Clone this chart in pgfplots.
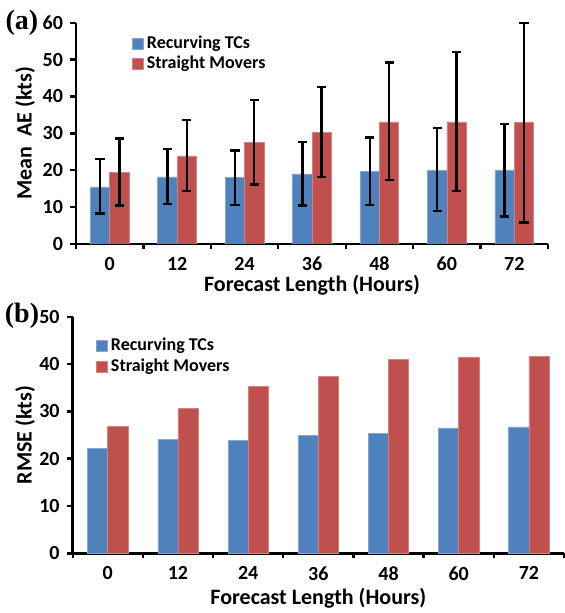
\documentclass[border=0pt]{standalone}
\usepackage{fontspec}
\setmainfont{Carlito}
\newfontfamily\serifbf{Liberation Serif}
\usepackage{pgfplots}
\pgfplotsset{compat=1.18}

\definecolor{tcblue}{RGB}{79,129,189}
\definecolor{smred}{RGB}{192,80,77}

\pgfplotsset{
  tcpanel/.style={
    scale only axis,
    ybar=0pt, bar width=0.287,
    xmin=-0.5, xmax=6.5, ymin=0,
    xtick={0,...,6}, xticklabels={0,12,24,36,48,60,72},
    minor xtick={-0.5,0.5,...,6.5},
    major x tick style={draw=none},
    tick align=outside,
    major tick length=3pt, minor tick length=2.5pt,
    every tick/.style={black, line width=1.2pt},
    axis x line*=bottom, axis y line*=left,
    axis line style={-, black, line width=1.3pt},
    tick label style={font=\bfseries\fontsize{10}{12}\selectfont},
    yticklabel style={/pgf/number format/assume math mode=true},
    label style={font=\bfseries\fontsize{11}{13}\selectfont},
    xlabel={Forecast Length (Hours)},
    legend style={draw=none, fill=none, anchor=north west,
      font=\bfseries\fontsize{9}{11}\selectfont, cells={anchor=west},
      inner sep=0pt, row sep=0pt,
      nodes={text height=6.8pt, text depth=2.2pt, inner ysep=0.5pt, inner xsep=1.5pt}},
    legend image code/.code={\fill[##1] (0pt,-2.7pt) rectangle (5.6pt,2.7pt);},
  },
  tcbar/.style={fill=#1, draw=#1!70!white, line width=0.3pt},
  ebars/.style={error bars/.cd, y dir=both, y explicit,
    error bar style={black, line width=1.2pt},
    error mark options={black, rotate=90, mark size=2.3pt, line width=1.2pt}},
}

\begin{document}
\begin{tikzpicture}
\path[use as bounding box] (0,0) rectangle (282pt,306.5pt);

% (a) mean absolute error
\begin{axis}[tcpanel, at={(38pt,184.5pt)}, anchor=south west,
  width=236pt, height=110.65pt,
  ymax=60, ytick={0,10,...,60},
  ylabel={Mean\ \ AE (kts)},
  xlabel style={at={(axis description cs:0.5,-0.185)}, anchor=center},
  ylabel style={at={(axis description cs:-0.108,0.5)}, anchor=center},
  legend style={at={(0.118,0.95)}},
]
\addplot[tcbar=tcblue, ebars] coordinates {
  (0,15.5) += (0,7.5) -= (0,7.2)
  (1,18.2) += (0,7.5) -= (0,7.4)
  (2,18.0) += (0,7.4) -= (0,7.4)
  (3,19.0) += (0,8.6) -= (0,8.6)
  (4,19.6) += (0,9.3) -= (0,9.0)
  (5,20.0) += (0,11.4) -= (0,11.1)
  (6,20.0) += (0,12.5) -= (0,12.5)
};
\addlegendentry{Recurving TCs}
\addplot[tcbar=smred, ebars] coordinates {
  (0,19.4) += (0,9.2) -= (0,9.0)
  (1,23.9) += (0,9.7) -= (0,9.6)
  (2,27.5) += (0,11.5) -= (0,11.4)
  (3,30.3) += (0,12.3) -= (0,12.2)
  (4,33.1) += (0,16.1) -= (0,15.8)
  (5,33.1) += (0,18.9) -= (0,18.8)
  (6,32.9) += (0,27.0) -= (0,27.1)
};
\addlegendentry{Straight Movers}
\end{axis}

% (b) RMSE
\begin{axis}[tcpanel, at={(36.35pt,29.85pt)}, anchor=south west,
  width=245.65pt, height=118.3pt,
  ymax=50, ytick={0,10,...,50},
  ylabel={RMSE (kts)},
  xlabel style={at={(axis description cs:0.5,-0.189)}, anchor=center},
  ylabel style={at={(axis description cs:-0.097,0.5)}, anchor=center},
  legend style={at={(0.047,0.92)}, row sep=0.5pt},
]
\addplot[tcbar=tcblue] coordinates {
  (0,22.2) (1,24.1) (2,23.9) (3,25.0) (4,25.4) (5,26.5) (6,26.7)
};
\addlegendentry{Recurving TCs}
\addplot[tcbar=smred] coordinates {
  (0,26.8) (1,30.6) (2,35.2) (3,37.4) (4,40.9) (5,41.5) (6,41.6)
};
\addlegendentry{Straight Movers}
\end{axis}

\node[font=\serifbf\bfseries\fontsize{14}{16}\selectfont] at (11pt,295pt) {(a)};
\node[font=\serifbf\bfseries\fontsize{14}{16}\selectfont] at (11pt,148.5pt) {(b)};
\end{tikzpicture}
\end{document}
